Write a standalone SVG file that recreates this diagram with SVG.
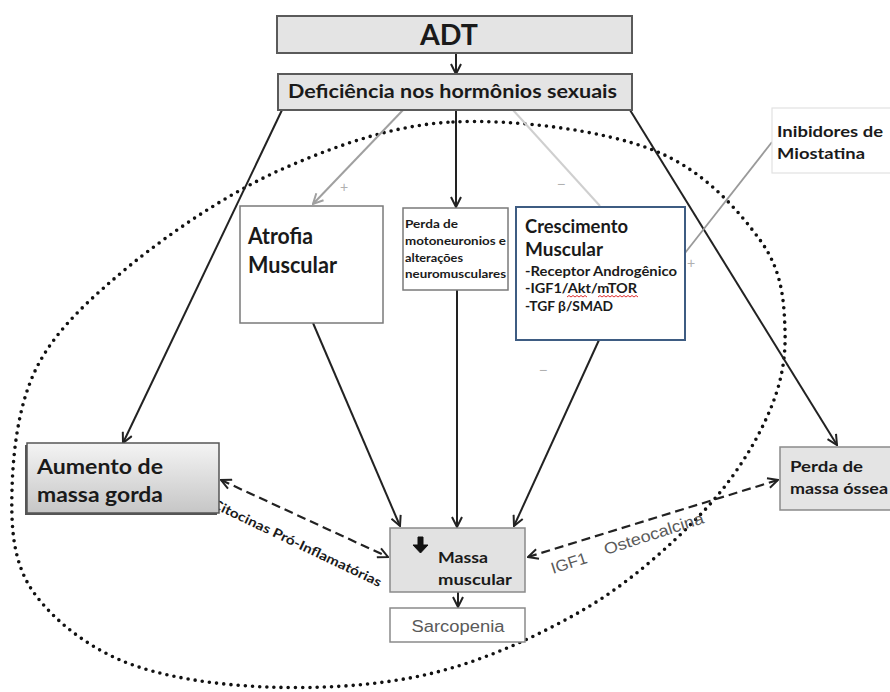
<svg xmlns="http://www.w3.org/2000/svg" width="890" height="692" viewBox="0 0 890 692">
<defs>
  <linearGradient id="gGray" x1="0" y1="0" x2="0" y2="1">
    <stop offset="0" stop-color="#f4f4f4"/>
    <stop offset="1" stop-color="#c6c6c6"/>
  </linearGradient>
  <marker id="ah" viewBox="0 0 12 12" refX="11" refY="6" markerWidth="12" markerHeight="12" markerUnits="userSpaceOnUse" orient="auto-start-reverse">
    <path d="M1,1 L11,6 L1,11" fill="none" stroke="#222" stroke-width="2"/>
  </marker>
  <marker id="ahg" viewBox="0 0 12 12" refX="11" refY="6" markerWidth="12" markerHeight="12" markerUnits="userSpaceOnUse" orient="auto">
    <path d="M1,1 L11,6 L1,11" fill="none" stroke="#a0a0a0" stroke-width="2"/>
  </marker>
</defs>
<style>
  .b { font-family: Lato, "Liberation Sans", sans-serif; font-weight: bold; fill: #1a1a1a; }
  .a { font-family: "Liberation Sans", Arial, sans-serif; fill: #5a5a5a; }
  .ln { stroke: #222; stroke-width: 2; fill: none; }
  .dash { stroke: #222; stroke-width: 2.2; fill: none; stroke-dasharray: 9 5; }
  .sign { font-family: "Liberation Sans", sans-serif; fill: #b0b0b0; font-size: 14px; }
</style>
<rect width="890" height="692" fill="#ffffff"/>

<!-- dotted ellipse -->
<path id="ellipse" d="M453,122 C515,119 602,130 653,150 C704,170 738,210 760,240 C782,270 784,300 785,330 C786,360 781,386 767,417 C753,448 731,483 700,515 C669,547 628,584 583,610 C538,636 486,660 433,673 C380,686 319,689 267,687 C215,685 160,677 120,660 C81,643 48,615 30,587 C13,559 11,527 12,490 C13,453 18,403 38,365 C58,327 93,296 133,263 C173,231 227,194 280,170 C333,147 391,125 453,122 Z" fill="none" stroke="#111" stroke-width="3.6" stroke-dasharray="0 7.2" stroke-linecap="round"/>

<g id="connectors">
  <line class="ln" x1="456" y1="53" x2="456" y2="74" marker-end="url(#ah)"/>
  <line class="ln" x1="282" y1="110" x2="123" y2="443" marker-end="url(#ah)"/>
  <line x1="403" y1="110" x2="313" y2="204" stroke="#a0a0a0" stroke-width="2" marker-end="url(#ahg)"/>
  <line class="ln" x1="456" y1="110" x2="456" y2="207" marker-end="url(#ah)"/>
  <line x1="513" y1="110" x2="600" y2="206" stroke="#cfcfcf" stroke-width="2"/>
  <line class="ln" x1="630" y1="110" x2="837" y2="445" marker-end="url(#ah)"/>
  <line x1="772" y1="142" x2="685" y2="253" stroke="#9a9a9a" stroke-width="1.8"/>
  <line class="ln" x1="313" y1="323" x2="400" y2="526" marker-end="url(#ah)"/>
  <line class="ln" x1="457" y1="290" x2="457" y2="527" marker-end="url(#ah)"/>
  <line class="ln" x1="599" y1="340" x2="514" y2="526" marker-end="url(#ah)"/>
  <line class="ln" x1="458" y1="592" x2="458" y2="607" marker-end="url(#ah)"/>
  <line class="dash" x1="221" y1="480" x2="388" y2="557" marker-start="url(#ah)" marker-end="url(#ah)"/>
  <line class="dash" x1="528" y1="557" x2="778" y2="480" marker-start="url(#ah)" marker-end="url(#ah)"/>
  <text class="sign" x="340" y="192">+</text>
  <text class="sign" x="557" y="189">−</text>
  <text class="sign" x="687" y="268">+</text>
  <text class="sign" x="539" y="375">−</text>
  <text class="b" font-size="13" transform="translate(211,507) rotate(25.5)" textLength="186" lengthAdjust="spacingAndGlyphs">Citocinas Pró-Inflamatórias</text>
  <text class="a" font-size="16" transform="translate(553,574) rotate(-18)" textLength="37" lengthAdjust="spacingAndGlyphs">IGF1</text>
  <text class="a" font-size="16" transform="translate(606,555) rotate(-18)" textLength="104" lengthAdjust="spacingAndGlyphs">Osteocalcina</text>
</g>

<g id="adt">
  <rect x="277" y="16" width="355" height="37" fill="#e4e4e4" stroke="#5a5a5a" stroke-width="2"/>
  <text class="b" x="449" y="45" font-size="28" text-anchor="middle" textLength="58" lengthAdjust="spacingAndGlyphs">ADT</text>
</g>

<g id="deficiencia">
  <rect x="278" y="74" width="354" height="36" fill="#e4e4e4" stroke="#5a5a5a" stroke-width="2"/>
  <text class="b" x="288" y="98" font-size="18" textLength="329" lengthAdjust="spacingAndGlyphs">Deficiência nos hormônios sexuais</text>
</g>

<g id="atrofia">
  <rect x="240" y="206" width="143" height="117" fill="#fff" stroke="#7a7a7a" stroke-width="1.5"/>
  <text class="b" x="248" y="244" font-size="22" textLength="65" lengthAdjust="spacingAndGlyphs">Atrofia</text>
  <text class="b" x="248" y="273" font-size="22" textLength="89" lengthAdjust="spacingAndGlyphs">Muscular</text>
</g>

<g id="perda-moto">
  <rect x="403" y="208" width="105" height="82" fill="#fff" stroke="#7a7a7a" stroke-width="1.5"/>
  <text class="b" font-size="12" x="405" y="228" textLength="53" lengthAdjust="spacingAndGlyphs">Perda de</text>
  <text class="b" font-size="12" x="405" y="245" textLength="101" lengthAdjust="spacingAndGlyphs">motoneuronios e</text>
  <text class="b" font-size="12" x="405" y="262" textLength="58" lengthAdjust="spacingAndGlyphs">alterações</text>
  <text class="b" font-size="12" x="405" y="278" textLength="101" lengthAdjust="spacingAndGlyphs">neuromusculares</text>
</g>

<g id="crescimento">
  <rect x="516" y="207" width="169" height="133" fill="#fff" stroke="#3e5c82" stroke-width="2"/>
  <text class="b" x="525" y="233" font-size="19" textLength="103" lengthAdjust="spacingAndGlyphs">Crescimento</text>
  <text class="b" x="525" y="256" font-size="19" textLength="78" lengthAdjust="spacingAndGlyphs">Muscular</text>
  <text class="b" x="525" y="276" font-size="13.5" textLength="152" lengthAdjust="spacingAndGlyphs">-Receptor Androgênico</text>
  <text class="b" x="525" y="293" font-size="13.5" textLength="112" lengthAdjust="spacingAndGlyphs">-IGF1/Akt/mTOR</text>
  <text class="b" x="525" y="311" font-size="13.5" textLength="88" lengthAdjust="spacingAndGlyphs">-TGF β/SMAD</text>
  <path d="M567,297 l2,-1.5 l2,1.5 l2,-1.5 l2,1.5 l2,-1.5 l2,1.5 l2,-1.5 l2,1.5 l2,-1.5 l2,1.5 M598,297 l2,-1.5 l2,1.5 l2,-1.5 l2,1.5 l2,-1.5 l2,1.5 l2,-1.5 l2,1.5 l2,-1.5 l2,1.5 l2,-1.5 l2,1.5 l2,-1.5 l2,1.5 l2,-1.5 l2,1.5 l2,-1.5 l2,1.5 l2,-1.5 l2,1.5" fill="none" stroke="#e03030" stroke-width="1"/>
</g>

<g id="inibidores">
  <rect x="772" y="108" width="125" height="65" fill="#fff" stroke="#e2e2e2" stroke-width="1.2"/>
  <text class="b" x="777" y="137" font-size="15" textLength="106" lengthAdjust="spacingAndGlyphs">Inibidores de</text>
  <text class="b" x="777" y="159" font-size="15" textLength="88" lengthAdjust="spacingAndGlyphs">Miostatina</text>
</g>

<g id="aumento">
  <rect x="25" y="445" width="192" height="70" fill="#555"/>
  <rect x="27" y="443" width="192" height="70" fill="url(#gGray)" stroke="#555" stroke-width="1.5"/>
  <text class="b" x="37" y="474" font-size="20" textLength="126" lengthAdjust="spacingAndGlyphs">Aumento de</text>
  <text class="b" x="37" y="502" font-size="20" textLength="126" lengthAdjust="spacingAndGlyphs">massa gorda</text>
</g>

<g id="massa-muscular">
  <rect x="390" y="528" width="135" height="64" fill="#e2e2e2" stroke="#8a8a8a" stroke-width="1.5"/>
  <path d="M418,537 h5 v8 h5 l-7.5,8 l-7.5,-8 h5 z" fill="#111" stroke="#111" stroke-width="1" stroke-linejoin="round"/>
  <text class="b" x="438" y="563" font-size="15" textLength="50" lengthAdjust="spacingAndGlyphs">Massa</text>
  <text class="b" x="438" y="585" font-size="15" textLength="74" lengthAdjust="spacingAndGlyphs">muscular</text>
</g>

<g id="sarcopenia">
  <rect x="390" y="608" width="135" height="34" fill="#fff" stroke="#8a8a8a" stroke-width="1.5"/>
  <text class="a" x="458" y="632" font-size="16" text-anchor="middle" textLength="93" lengthAdjust="spacingAndGlyphs">Sarcopenia</text>
</g>

<g id="perda-ossea">
  <rect x="780" y="447" width="115" height="63" fill="#e4e4e4" stroke="#8a8a8a" stroke-width="1.5"/>
  <text class="b" x="790" y="472" font-size="15" textLength="73" lengthAdjust="spacingAndGlyphs">Perda de</text>
  <text class="b" x="790" y="494" font-size="15" textLength="98" lengthAdjust="spacingAndGlyphs">massa óssea</text>
</g>
</svg>
